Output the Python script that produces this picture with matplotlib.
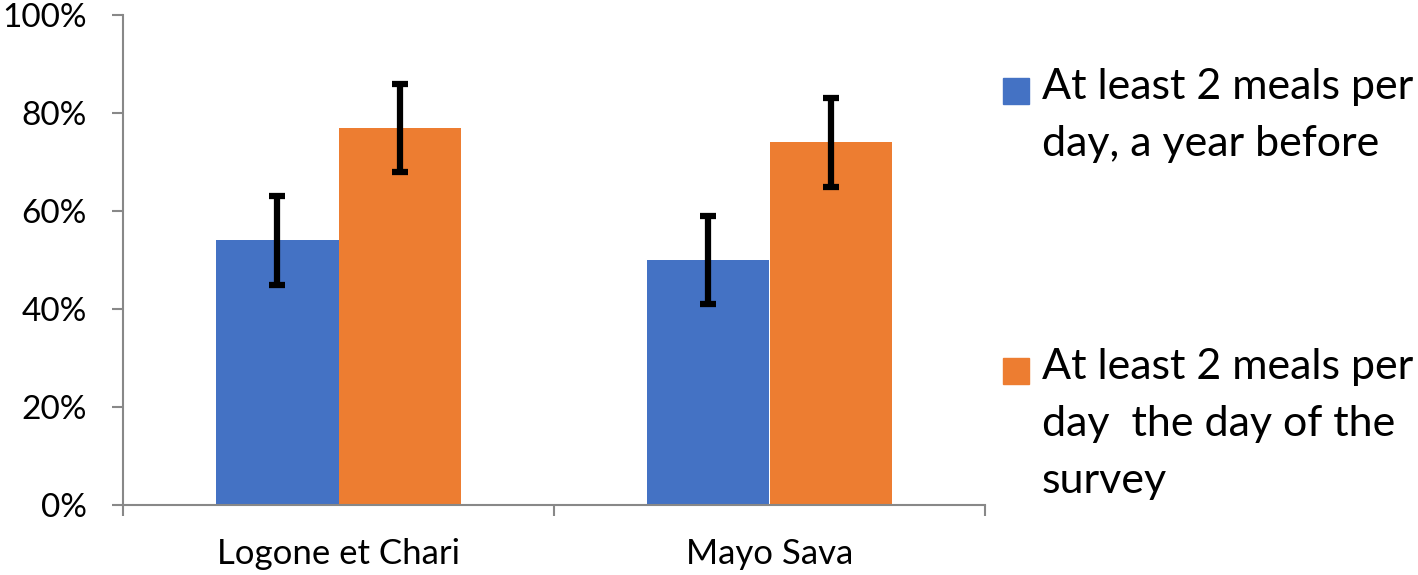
import matplotlib.pyplot as plt
from matplotlib.patches import Rectangle
import numpy as np

plt.rcParams['font.family'] = ['Lato', 'DejaVu Sans']

regions = ["Logone et Chari", "Mayo Sava"]
before = [54, 50]
survey = [77, 74]
err_before = [9, 9]
err_survey = [9, 9]
labels = ["At least 2 meals per\nday, a year before",
          "At least 2 meals per\nday  the day of the\nsurvey"]
colors = ["#4472C4", "#ED7D31"]

fig = plt.figure(figsize=(14.18, 5.75), dpi=100)
ax = fig.add_axes([123/1418, 1-505/575, (985-123)/1418, 490/575])

x = np.arange(len(regions))
w = 0.285
ekw = dict(ecolor="black", elinewidth=4.5, capsize=6, capthick=4.5)
ax.bar(x - w/2, before, w, color=colors[0], yerr=err_before, error_kw=ekw,
       linewidth=0, zorder=2)
ax.bar(x + w/2, survey, w, color=colors[1], yerr=err_survey, error_kw=ekw,
       linewidth=0, zorder=2)

ax.set_xlim(-0.5, 1.5)
ax.set_ylim(0, 100)
ax.set_yticks(range(0, 101, 20))
ax.set_yticklabels([f"{v}%" for v in range(0, 101, 20)], fontsize=24)
ax.set_xticks(x)
ax.set_xticklabels(regions, fontsize=25)
ax.set_xticks([-0.5, 0.5, 1.5], minor=True)
ax.tick_params(axis="x", which="major", length=0, pad=24)
ax.tick_params(axis="x", which="minor", length=8, width=1.5, color="#888888")
ax.tick_params(axis="y", length=8, width=1.5, color="#888888", pad=18)

for s in ["top", "right"]:
    ax.spines[s].set_visible(False)
for s in ["left", "bottom"]:
    ax.spines[s].set_color("#888888")
    ax.spines[s].set_linewidth(1.5)

# legend, drawn by hand
ys = [1-91/575, 1-371/575]
for lab, col, yy in zip(labels, colors, ys):
    fig.patches.append(Rectangle((1003/1418, yy - 13/575), 26/1418, 26/575,
                                 transform=fig.transFigure, color=col))
    fig.text(1042/1418, yy + 23/575, lab, fontsize=31, va="top", ha="left",
             linespacing=1.62)

fig.savefig("out.png", dpi=100)
